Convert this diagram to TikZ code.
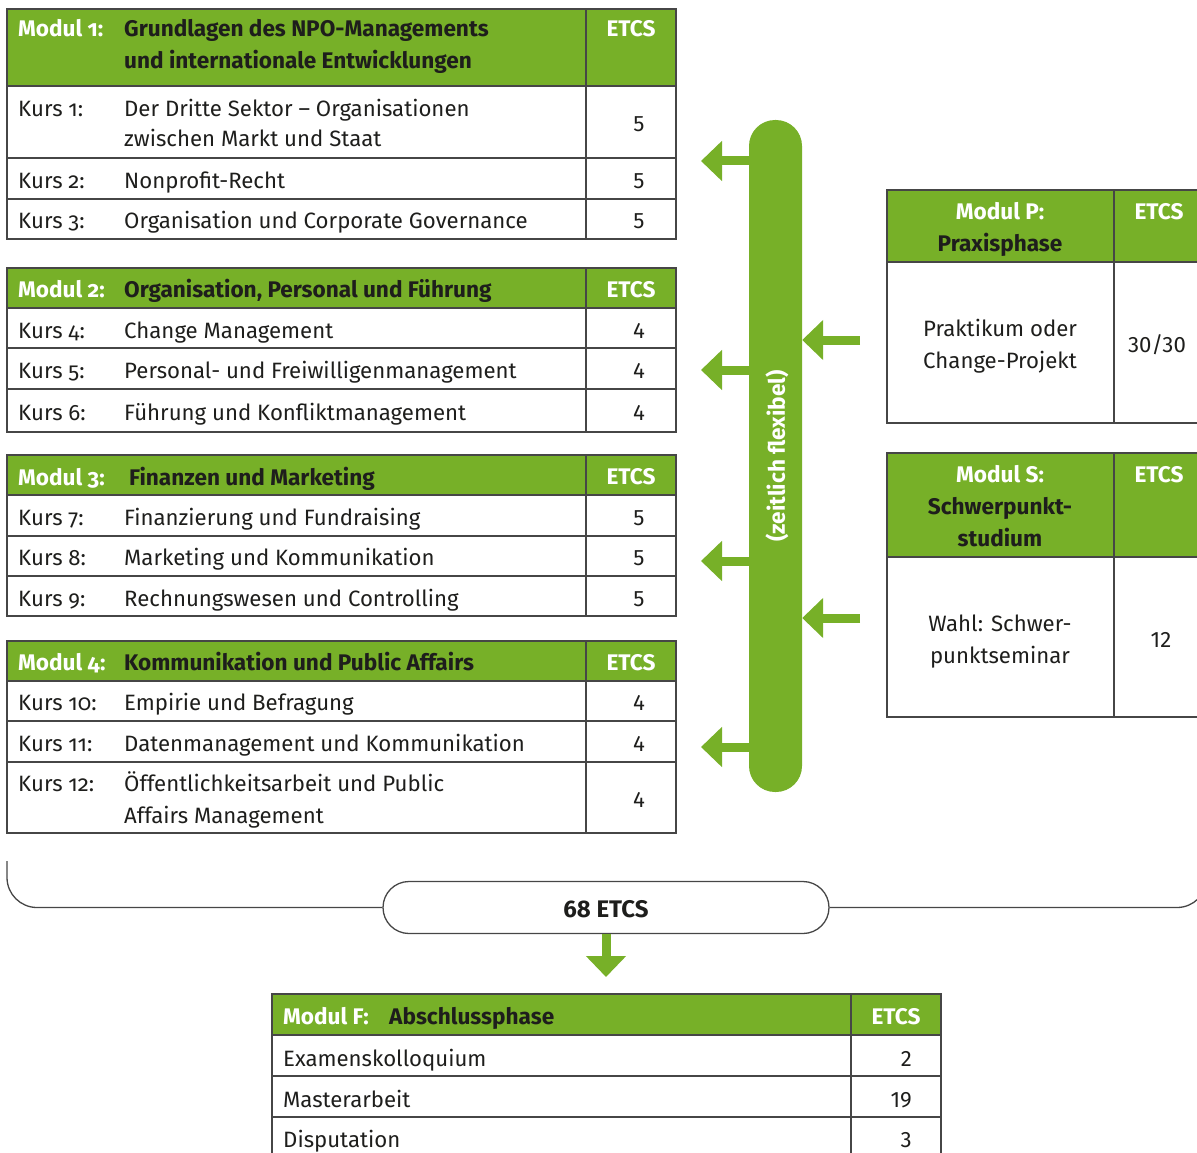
\documentclass[tikz,border=0pt]{standalone}
\usepackage{fontspec}
\setmainfont{Fira Sans}
\newfontfamily\osf{Fira Sans}[Numbers=OldStyle]
\usetikzlibrary{arrows.meta,calc}
\definecolor{gr}{RGB}{119,176,40}
\definecolor{dk}{RGB}{30,30,28}
\definecolor{ln}{RGB}{70,70,70}
\newcommand\fs{\fontsize{22.2}{30}\selectfont}
\newcommand\fb{\fontsize{22.6}{30}\selectfont}
\newcommand\mytable[7]{%
  \fill[gr] (#1,#4) rectangle (#3,#5);
  \foreach \yy in {#6} {\draw[grid] (#1,\yy) -- (#3,\yy);}
  \draw[grid] (#1,#4) rectangle (#3,#7);
  \draw[grid] (#2,#4) -- (#2,#7);
  \draw[grid] (#1,#5) -- (#3,#5);
}
\begin{document}
\begin{tikzpicture}[x=1pt,y=-1pt,
  grid/.style={draw=ln,line width=1.3pt},
  lbl/.style={anchor=base west,inner sep=0pt,font=\fs\osf,text=dk},
  cnum/.style={anchor=base,inner sep=0pt,font=\fs,text=dk},
  rnum/.style={anchor=base east,inner sep=0pt,font=\fs,text=dk},
  ctxt/.style={anchor=base,inner sep=0pt,font=\fs,text=dk,align=center},
  hw/.style={anchor=base west,inner sep=0pt,font=\fb\osf\bfseries,text=white},
  hk/.style={anchor=base west,inner sep=0pt,font=\fb\bfseries,text=dk},
  hwc/.style={anchor=base,inner sep=0pt,font=\fb\osf\bfseries,text=white},
  hkc/.style={anchor=base,inner sep=0pt,font=\fb\bfseries,text=dk},
  garrow/.style={draw=gr,line width=9pt,-{Triangle[width=39pt,length=21pt]}},
]
\useasboundingbox (0,0) rectangle (1197,1153);
\clip (0,0) rectangle (1197,1153);

% ---------- Modul 1
\mytable{7}{586}{676}{9}{86}{158,199}{239}
\node[hw] (m1) at (18,37) {Modul 1:};
\node[hk] (m1t) at (124,37) {Grundlagen des NPO-Managements};
\node[hk] (m1t2) at (124,69) {und internationale Entwicklungen};
\node[hwc] (m1e) at (631,37) {ETCS};
\node[lbl] (k1) at (18,117) {Kurs 1:};
\node[lbl] (k1t) at (124,117) {Der Dritte Sektor – Organisationen};
\node[lbl] (k1t2) at (124,147) {zwischen Markt und Staat};
\node[cnum] (k1n) at (639,132) {5};
\node[lbl] (k2) at (18,188) {Kurs 2:};
\node[lbl] (k2t) at (124,188) {Nonprofit-Recht};
\node[cnum] (k2n) at (639,188) {5};
\node[lbl] (k3) at (18,228) {Kurs 3:};
\node[lbl] (k3t) at (124,228) {Organisation und Corporate Governance};
\node[cnum] (k3n) at (639,228) {5};

% ---------- Modul 2
\mytable{7}{586}{676}{268}{308}{348,389}{432}
\node[hw] (m2) at (18,297) {Modul 2:};
\node[hk] (m2t) at (124,297) {Organisation, Personal und Führung};
\node[hwc] (m2e) at (631,297) {ETCS};
\node[lbl] (k4) at (18,338) {Kurs 4:};
\node[lbl] (k4t) at (124,338) {Change Management};
\node[cnum] (k4n) at (639,338) {4};
\node[lbl] (k5) at (18,378) {Kurs 5:};
\node[lbl] (k5t) at (124,378) {Personal- und Freiwilligenmanagement};
\node[cnum] (k5n) at (639,378) {4};
\node[lbl] (k6) at (18,420) {Kurs 6:};
\node[lbl] (k6t) at (124,420) {Führung und Konfliktmanagement};
\node[cnum] (k6n) at (639,420) {4};

% ---------- Modul 3
\mytable{7}{586}{676}{455}{495}{536,576}{616}
\node[hw] (m3) at (18,485) {Modul 3:};
\node[hk] (m3t) at (129,485) {Finanzen und Marketing};
\node[hwc] (m3e) at (631,484) {ETCS};
\node[lbl] (k7) at (18,525) {Kurs 7:};
\node[lbl] (k7t) at (124,525) {Finanzierung und Fundraising};
\node[cnum] (k7n) at (639,525) {5};
\node[lbl] (k8) at (18,565) {Kurs 8:};
\node[lbl] (k8t) at (124,565) {Marketing und Kommunikation};
\node[cnum] (k8n) at (639,565) {5};
\node[lbl] (k9) at (18,606) {Kurs 9:};
\node[lbl] (k9t) at (124,606) {Rechnungswesen und Controlling};
\node[cnum] (k9n) at (639,606) {5};

% ---------- Modul 4
\mytable{7}{586}{676}{641}{681}{721,762}{833}
\node[hw] (m4) at (18,670) {Modul 4:};
\node[hk] (m4t) at (124,670) {Kommunikation und Public Affairs};
\node[hwc] (m4e) at (631,670) {ETCS};
\node[lbl] (k10) at (18,710) {Kurs 10:};
\node[lbl] (k10t) at (124,710) {Empirie und Befragung};
\node[cnum] (k10n) at (639,710) {4};
\node[lbl] (k11) at (18,751) {Kurs 11:};
\node[lbl] (k11t) at (124,751) {Datenmanagement und Kommunikation};
\node[cnum] (k11n) at (639,751) {4};
\node[lbl] (k12) at (18,791) {Kurs 12:};
\node[lbl] (k12t) at (124,791) {Öffentlichkeitsarbeit und Public};
\node[lbl] (k12t2) at (124,823) {Affairs Management};
\node[cnum] (k12n) at (639,807) {4};

% ---------- Modul P
\mytable{887}{1114}{1205}{190}{262}{}{423}
\node[hwc] (mp) at (1000,219) {Modul P:};
\node[hkc] (mpt) at (1000,251) {Praxisphase};
\node[hwc] (mpe) at (1159,219) {ETCS};
\node[ctxt] (mpb) at (1000,336) {Praktikum oder};
\node[ctxt] (mpb2) at (1000,368) {Change-Projekt};
\node[cnum] (mpn) at (1157,352) {30/30};

% ---------- Modul S
\mytable{887}{1114}{1205}{453}{557}{}{717}
\node[hwc] (ms) at (1000,482) {Modul S:};
\node[hkc] (mst) at (1000,514) {Schwerpunkt-};
\node[hkc] (mst2) at (1000,546) {studium};
\node[hwc] (mse) at (1159,482) {ETCS};
\node[ctxt] (msb) at (1000,631) {Wahl: Schwer-};
\node[ctxt] (msb2) at (1000,663) {punktseminar};
\node[cnum] (msn) at (1161,647) {12};

% ---------- central bar
\fill[gr,rounded corners=26pt] (749,120) rectangle (802,792);
\node[inner sep=0pt,minimum width=53pt,minimum height=672pt] (bar) at (775.5,456) {};
\node[rotate=90,inner sep=0pt,font=\fb\bfseries,text=white] (flex) at (777,456) {(zeitlich flexibel)};

\foreach \yy/\nm in {161/a1,370/a2,561/a3,747/a4}{
  \coordinate (\nm) at (701,\yy);
  \draw[garrow] (\nm -| bar.west) -- (\nm);
}
\foreach \yy/\nm in {340/b1,618/b2}{
  \coordinate (\nm) at (860,\yy);
  \draw[garrow] (\nm) -- (\nm -| bar.east);
}

% ---------- bracket and sum
\node[draw=ln,line width=1.3pt,rounded corners=26pt,minimum width=446pt,minimum height=52pt,inner sep=0pt] (sum) at (606,907.5) {};
\node[anchor=base,inner sep=0pt,font=\fontsize{24}{30}\selectfont\bfseries,text=dk] (sumt) at (606,917) {68 ETCS};
\coordinate (bl) at (7,861);
\coordinate (br) at (1207,861);
\draw[line width=1.3pt,draw=ln,rounded corners=30pt] (bl) |- (sum.west);
\draw[line width=1.3pt,draw=ln,rounded corners=30pt] (sum.east) -| (br);
\coordinate (dn) at (606,977);
\draw[garrow] (sum.south) -- (dn);

% ---------- Modul F
\mytable{272}{851}{941}{994}{1035}{1076,1117}{1170}
\node[hw] (mf) at (283,1024) {Modul F:};
\node[hk] (mft) at (389,1024) {Abschlussphase};
\node[hwc] (mfe) at (896,1024) {ETCS};
\node[lbl] (f1) at (283,1066) {Examenskolloquium};
\node[rnum] (f1n) at (912,1066) {2};
\node[lbl] (f2) at (283,1107) {Masterarbeit};
\node[rnum] (f2n) at (912,1107) {19};
\node[lbl] (f3) at (283,1147) {Disputation};
\node[rnum] (f3n) at (912,1147) {3};
\end{tikzpicture}
\end{document}
